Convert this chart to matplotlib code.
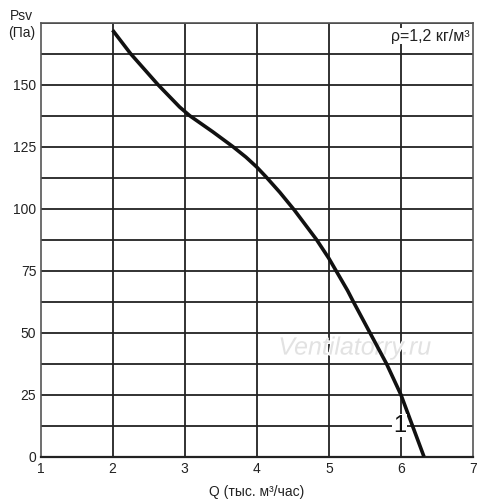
import matplotlib.pyplot as plt
import matplotlib.patheffects as pe

plt.rcParams['font.family'] = ['Liberation Sans', 'DejaVu Sans']

# fan curve
q = [2.00, 2.25, 2.63, 2.93, 3.07, 3.39, 3.67, 3.85, 4.00, 4.13, 4.32, 4.52, 4.83,
     5.00, 5.26, 5.34, 5.57, 5.80, 6.00, 6.16, 6.32]
psv = [172, 162.5, 150, 141, 137.5, 131, 125, 120.8, 116.8, 112.8, 106.6, 99.5, 87.5,
       80, 67, 62.5, 50, 37.5, 25, 12.5, 0]

x_ticks = [1, 2, 3, 4, 5, 6, 7]
y_ticks = [0, 25, 50, 75, 100, 125, 150]
y_grid = [12.5 * i for i in range(15)]

fig = plt.figure(figsize=(5, 5), dpi=100)
ax = fig.add_axes([0.081, 0.0866, 0.865, 0.868])

ax.set_xlim(1, 7)
ax.set_ylim(0, 175)
ax.set_xticks(x_ticks)
ax.set_yticks(y_ticks)
ax.tick_params(which='both', length=0, labelsize=10, colors='#222222')
ax.tick_params(axis='x', pad=4)
ax.tick_params(axis='y', pad=3)

for v in x_ticks[1:-1]:
    ax.axvline(v, color='#222222', lw=1.3, zorder=1)
for v in y_grid[1:]:
    ax.axhline(v, color='#222222', lw=1.3, zorder=1)
for s in ax.spines.values():
    s.set_color('#555555')
    s.set_linewidth(1.2)
ax.spines['bottom'].set_color('#222222')
ax.spines['bottom'].set_linewidth(1.6)

# watermark
ax.text(5.36, 44, 'Ventilatorry.ru', fontsize=18, style='italic', color='#e2e2e2',
        ha='center', va='center', zorder=2,
        path_effects=[pe.withStroke(linewidth=1.5, foreground='white')])

ax.plot(q, psv, color='#111111', lw=2.6, zorder=3,
        solid_capstyle='butt', solid_joinstyle='round')

ax.text(5.98, 12.5, '1', fontsize=17, ha='center', va='center', color='#111111', zorder=4,
        bbox=dict(facecolor='white', edgecolor='none', pad=0.5))
ax.text(6.95, 169.5, 'ρ=1,2 кг/м³', fontsize=11.5, ha='right', va='center', color='#222222',
        zorder=4, bbox=dict(facecolor='white', edgecolor='none', pad=0.5))

fig.text(0.042, 0.968, 'Psv', fontsize=10, ha='center', va='center', color='#222222')
fig.text(0.044, 0.934, '(Па)', fontsize=10, ha='center', va='center', color='#222222')
ax.set_xlabel('Q (тыс. м³/час)', fontsize=10, color='#222222', labelpad=6)

fig.savefig('out.png', dpi=100, facecolor='white')
